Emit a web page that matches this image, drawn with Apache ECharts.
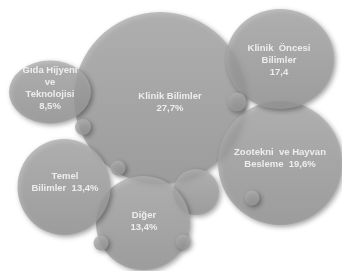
<!DOCTYPE html>
<html>
<head>
<meta charset="utf-8">
<script src="https://cdn.jsdelivr.net/npm/echarts@6/dist/echarts.min.js"></script>
<style>
  html, body { margin: 0; padding: 0; background: #fff; }
  #chart { width: 342px; height: 271px; }
</style>
</head>
<body>
<div id="chart"></div>
<script>
// categories and values
var categories = ['Klinik Bilimler', 'Zootekni ve Hayvan Besleme', 'Klinik Öncesi Bilimler', 'Gıda Hijyeni ve Teknolojisi', 'Diğer', 'Temel Bilimler'];
var values = [27.7, 19.6, 17.4, 8.5, 13.4, 13.4];
var labelText = [
    'Klinik Bilimler\n27,7%',
    'Zootekni  ve Hayvan\nBesleme  19,6%',
    'Klinik  Öncesi\nBilimler\n17,4',
    'Gıda Hijyeni\nve\nTeknolojisi\n8,5%',
    'Diğer\n13,4%',
    'Temel\nBilimler  13,4%'
];

// layout of the bubbles (pixel space), same order as categories
var bigCircles = [
    {c: [160, 98], size: [172, 172], off: [10, 4]},
    {c: [280, 163], size: [124, 124], off: [0, -5]},
    {c: [280, 59], size: [108, 100], off: [-1, 1]},
    {c: [50, 92], size: [82, 63], off: [0, -4]},
    {c: [143, 223], size: [94, 94], off: [1, -2]},
    {c: [64, 187], size: [93, 96], off: [1, -5]}
];
// decorative bubbles without text
var midCircle = [196, 192, 46];
var smallCircles = [[237, 102, 19], [252, 198, 15], [83, 127, 16], [118, 168, 15], [101, 243, 15], [183, 242, 15]];

var fill = new echarts.graphic.LinearGradient(0, 0, 0, 1, [
    {offset: 0, color: '#b1b1b1'},
    {offset: 1, color: '#9a9a9a'}
]);
var shade = {
    color: fill,
    shadowBlur: 5,
    shadowOffsetX: 2,
    shadowOffsetY: 2,
    shadowColor: 'rgba(0,0,0,0.45)'
};

var bubbleData = categories.map(function (name, i) {
    var b = bigCircles[i];
    return {
        name: name,
        value: [b.c[0], b.c[1], values[i]],
        symbolSize: b.size,
        label: {offset: b.off, formatter: labelText[i]}
    };
});
// the middle bubble sits above Klinik Bilimler but below the others
bubbleData.splice(1, 0, {
    name: '',
    value: [midCircle[0], midCircle[1]],
    symbolSize: midCircle[2],
    label: {show: false}
});

var chart = echarts.init(document.getElementById('chart'));
chart.setOption({
    animation: false,
    grid: {left: 0, right: 0, top: 0, bottom: 0},
    xAxis: {type: 'value', min: 0, max: 342, show: false},
    yAxis: {type: 'value', min: 0, max: 271, inverse: true, show: false},
    series: [
        {
            type: 'scatter',
            z: 2,
            data: bubbleData,
            itemStyle: shade,
            label: {
                show: true,
                position: 'inside',
                color: '#fff',
                fontFamily: 'Liberation Sans, Arial, sans-serif',
                fontWeight: 'bold',
                fontSize: 9.5,
                lineHeight: 12,
                align: 'center'
            }
        },
        {
            type: 'scatter',
            z: 3,
            data: smallCircles.map(function (s) { return {value: [s[0], s[1]], symbolSize: s[2]}; }),
            itemStyle: shade,
            silent: true
        }
    ]
});
</script>
</body>
</html>
